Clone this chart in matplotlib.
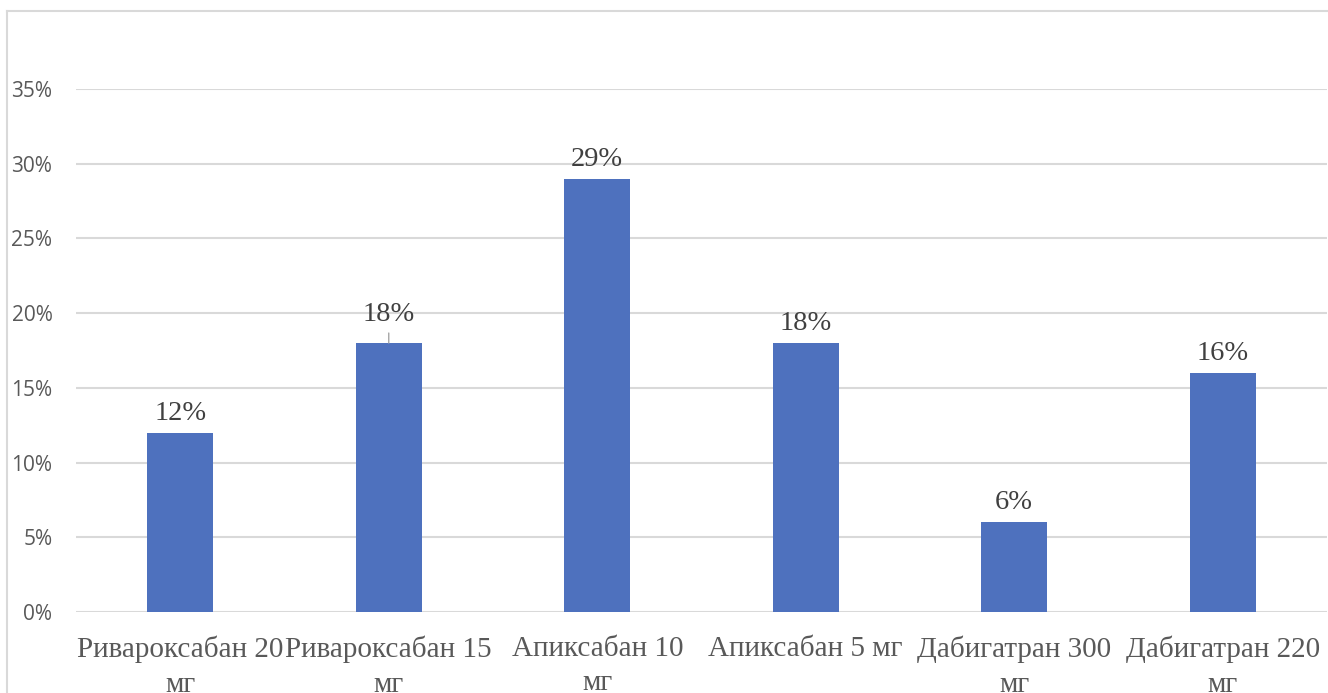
import matplotlib
matplotlib.use("Agg")
import matplotlib.pyplot as plt
from matplotlib.lines import Line2D
from matplotlib.ticker import FuncFormatter

# Share of patients per drug and dose
categories = [
    "Ривароксабан 20\nмг",
    "Ривароксабан 15\nмг",
    "Апиксабан 10\nмг",
    "Апиксабан 5 мг",
    "Дабигатран 300\nмг",
    "Дабигатран 220\nмг",
]
values = [12, 18, 29, 18, 6, 16]
value_labels = ["12%", "18%", "29%", "18%", "6%", "16%"]
y_ticks = [0, 5, 10, 15, 20, 25, 30, 35]

W, H = 1328, 693
fig = plt.figure(figsize=(W / 100, H / 100), dpi=100)
fig.patch.set_facecolor("white")

# Chart frame (top and left edges)
fig.add_artist(Line2D([7 / W, 1.0], [1 - 11 / H, 1 - 11 / H], color="#d9d9d9", lw=1.5,
                      transform=fig.transFigure))
fig.add_artist(Line2D([7 / W, 7 / W], [0.0, 1 - 11 / H], color="#d9d9d9", lw=1.5,
                      transform=fig.transFigure))

left, right = 76 / W, 1327 / W
bottom, top = 1 - 612 / H, 1 - 89 / H
ax = fig.add_axes([left, bottom, right - left, top - bottom])

x = list(range(len(categories)))
bars = ax.bar(x, values, width=0.317, color="#4e71be", zorder=3)

ax.set_xlim(-0.5, len(categories) - 0.5)
ax.set_ylim(0, 35)
ax.set_yticks(y_ticks)
ax.yaxis.set_major_formatter(FuncFormatter(lambda v, p: f"{int(v)}%"))
ax.grid(axis="y", color="#d9d9d9", lw=1.5, zorder=0)
ax.set_axisbelow(True)
for s in ax.spines.values():
    s.set_visible(False)
ax.tick_params(axis="y", length=0, pad=17, labelsize=15, labelcolor="#595959")
for lbl in ax.get_yticklabels():
    lbl.set_fontfamily("Open Sans")

ax.set_xticks(x)
ax.set_xticklabels(categories, fontfamily="Liberation Serif", fontsize=21,
                   color="#595959", linespacing=1.42)
ax.tick_params(axis="x", length=0, pad=17)

# Data labels; the second one sits higher with a short leader line
for i, (v, lab) in enumerate(zip(values, value_labels)):
    extra = 9 if i == 1 else 0
    ax.annotate(lab, (i, v), xytext=(0, (13 + extra) / 1.389), textcoords="offset points",
                ha="center", va="baseline", fontfamily="Liberation Serif",
                fontsize=20.5, color="#404040", zorder=4)
    if i == 1:
        ax.annotate("", (i, v), xytext=(0, 10 / 1.389), textcoords="offset points",
                    arrowprops=dict(arrowstyle="-", color="#a6a6a6", lw=1.0,
                                    shrinkA=0, shrinkB=0))

fig.savefig("out.png", dpi=100)
